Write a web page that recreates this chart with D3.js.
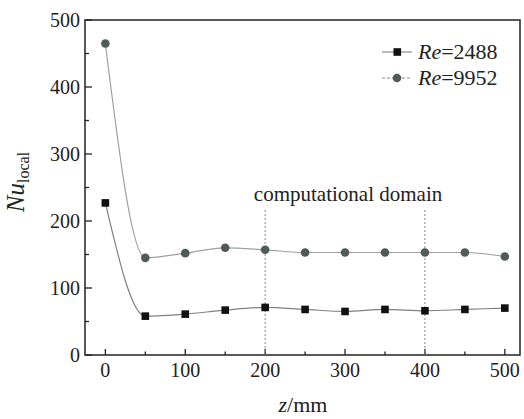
<!DOCTYPE html>
<html>
<head>
<meta charset="utf-8">
<script src="https://cdn.jsdelivr.net/npm/d3@7"></script>
<style>
  body { margin: 0; background: #fff; }
</style>
</head>
<body>
<div id="chart"></div>
<script>
// data
const zValues = [0, 50, 100, 150, 200, 250, 300, 350, 400, 450, 500];
const nuRe2488 = [227, 58, 61, 67, 71, 68, 65, 68, 66, 68, 70];
const nuRe9952 = [465, 145, 152, 160, 157, 153, 153, 153, 153, 153, 147];
const seriesNames = ["2488", "9952"];
const xTicks = [0, 100, 200, 300, 400, 500];
const yTicks = [0, 100, 200, 300, 400, 500];
const domainLines = [200, 400];

const width = 524, height = 419;
const margin = {top: 20, right: 4, bottom: 64, left: 85};
const plotW = width - margin.left - margin.right;
const plotH = height - margin.top - margin.bottom;
const serif = "'Liberation Serif'";

const svg = d3.select("#chart").append("svg")
  .attr("width", width)
  .attr("height", height);

const g = svg.append("g")
  .attr("transform", "translate(" + margin.left + "," + margin.top + ")");

const x = d3.scaleLinear().domain([-25.5, 519]).range([0, plotW]);
const y = d3.scaleLinear().domain([0, 500]).range([plotH, 0]);

// frame
g.append("rect")
  .attr("width", plotW).attr("height", plotH)
  .attr("fill", "none").attr("stroke", "#222").attr("stroke-width", 1.5);

// x axis ticks (inward) and labels
const xMinor = d3.range(50, 500, 100);
g.selectAll(".xmaj").data(xTicks).enter().append("line")
  .attr("x1", d => x(d)).attr("x2", d => x(d))
  .attr("y1", plotH).attr("y2", plotH - 6)
  .attr("stroke", "#222").attr("stroke-width", 1.3);
g.selectAll(".xmin").data(xMinor).enter().append("line")
  .attr("x1", d => x(d)).attr("x2", d => x(d))
  .attr("y1", plotH).attr("y2", plotH - 3.5)
  .attr("stroke", "#222").attr("stroke-width", 1.3);
g.selectAll(".xlab").data(xTicks).enter().append("text")
  .style("font-family", serif)
  .attr("x", d => x(d)).attr("y", plotH + 22)
  .attr("text-anchor", "middle").attr("font-size", 20).attr("fill", "#222")
  .text(d => d);

// y axis ticks and labels
const yMinor = d3.range(50, 500, 100);
g.selectAll(".ymaj").data(yTicks).enter().append("line")
  .attr("x1", 0).attr("x2", 7)
  .attr("y1", d => y(d)).attr("y2", d => y(d))
  .attr("stroke", "#222").attr("stroke-width", 1.3);
g.selectAll(".ymin").data(yMinor).enter().append("line")
  .attr("x1", 0).attr("x2", 4)
  .attr("y1", d => y(d)).attr("y2", d => y(d))
  .attr("stroke", "#222").attr("stroke-width", 1.3);
g.selectAll(".ylab").data(yTicks).enter().append("text")
  .style("font-family", serif)
  .attr("x", -5).attr("y", d => y(d))
  .attr("dy", "0.35em")
  .attr("text-anchor", "end").attr("font-size", 20).attr("fill", "#222")
  .text(d => d);

// axis titles
svg.append("text")
  .style("font-family", serif)
  .attr("x", 303).attr("y", 412)
  .attr("text-anchor", "middle")
  .attr("font-size", 22).attr("fill", "#222")
  .html('<tspan font-style="italic">z</tspan>/mm');

svg.append("text")
  .style("font-family", serif)
  .attr("transform", "translate(24,182) rotate(-90)")
  .attr("text-anchor", "middle")
  .attr("font-size", 25).attr("fill", "#222")
  .html('<tspan font-style="italic">Nu</tspan><tspan font-size="16" dy="5">local</tspan>');

// computational domain markers
g.selectAll(".dom").data(domainLines).enter().append("line")
  .attr("x1", d => x(d)).attr("x2", d => x(d))
  .attr("y1", 190).attr("y2", plotH)
  .attr("stroke", "#888").attr("stroke-width", 1)
  .attr("stroke-dasharray", "2,2");
g.append("text")
  .style("font-family", serif)
  .attr("x", (x(200) + x(400)) / 2 + 3).attr("y", 181)
  .attr("text-anchor", "middle").attr("font-size", 21).attr("fill", "#222")
  .text("computational domain");

// curves
const line = d3.line()
  .x((d, i) => x(zValues[i]))
  .y(d => y(d))
  .curve(d3.curveMonotoneX);

g.append("path").datum(nuRe9952)
  .attr("d", line).attr("fill", "none")
  .attr("stroke", "#a0a0a0").attr("stroke-width", 1.2);
g.append("path").datum(nuRe2488)
  .attr("d", line).attr("fill", "none")
  .attr("stroke", "#808080").attr("stroke-width", 1.2);

g.selectAll(".c").data(nuRe9952).enter().append("circle")
  .attr("cx", (d, i) => x(zValues[i])).attr("cy", d => y(d))
  .attr("r", 4.3).attr("fill", "#4f5a5a");
g.selectAll(".s").data(nuRe2488).enter().append("rect")
  .attr("x", (d, i) => x(zValues[i]) - 3.8).attr("y", d => y(d) - 3.8)
  .attr("width", 7.6).attr("height", 7.6).attr("fill", "#111");

// legend
const legend = svg.append("g").attr("transform", "translate(382,52)");
seriesNames.forEach((name, i) => {
  const row = legend.append("g").attr("transform", "translate(0," + (i * 26) + ")");
  row.append("line").attr("x1", 0).attr("x2", 30)
    .attr("stroke", "#8a8a8a").attr("stroke-width", 1.2)
    .attr("stroke-dasharray", i === 0 ? null : "3,2");
  if (i === 0) {
    row.append("rect").attr("x", 11.5).attr("y", -3.8).attr("width", 7.6).attr("height", 7.6).attr("fill", "#111");
  } else {
    row.append("circle").attr("cx", 15).attr("r", 4.3).attr("fill", "#4f5a5a");
  }
  row.append("text").style("font-family", serif)
    .attr("x", 36).attr("y", 7).attr("font-size", 22).attr("fill", "#222")
    .html('<tspan font-style="italic">Re</tspan>=' + name);
});
</script>
</body>
</html>
